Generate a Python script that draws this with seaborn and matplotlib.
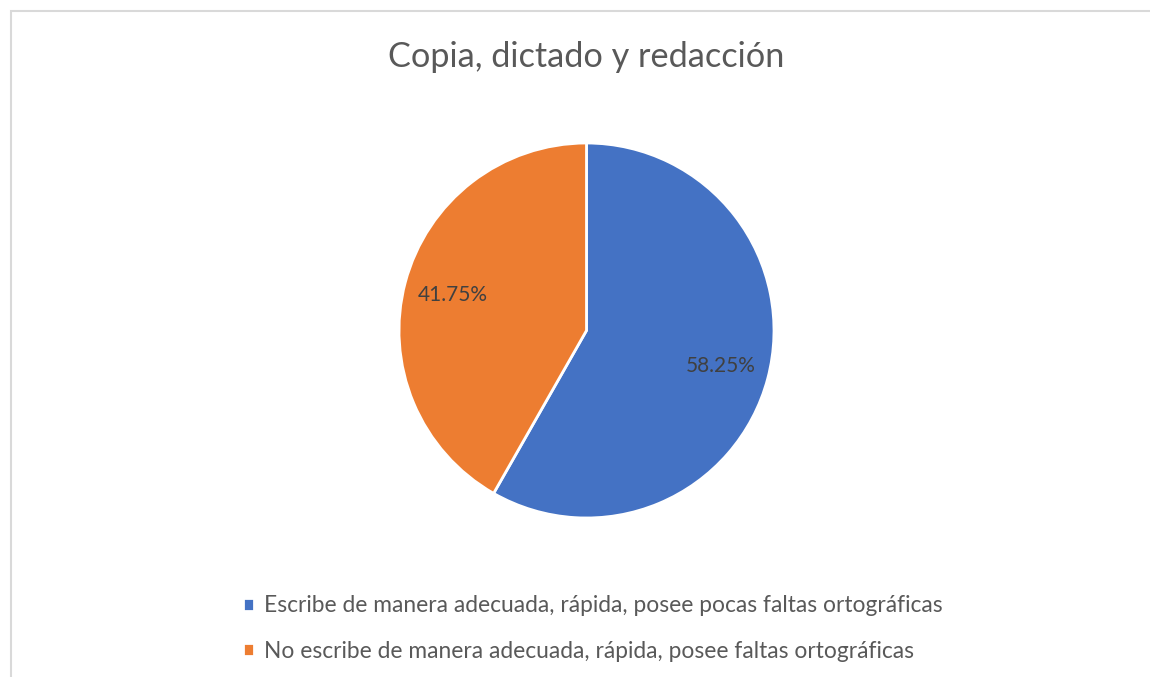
import matplotlib
matplotlib.use("Agg")
import matplotlib.pyplot as plt
from matplotlib.patches import Rectangle
import seaborn as sns

TITLE = "Copia, dictado y redacción"
CATEGORIES = [
    "Escribe de manera adecuada, rápida, posee pocas faltas ortográficas",
    "No escribe de manera adecuada, rápida, posee faltas ortográficas",
]
SHARES = [58.25, 41.75]
COLORS = ["#4472C4", "#ED7D31"]

sns.set_theme(style="white")
plt.rcParams["font.family"] = ["Lato", "DejaVu Sans"]

W, H = 1150, 677
fig = plt.figure(figsize=(W / 100, H / 100), dpi=100)

# light grey chart-area border (open on the right and bottom)
fig.patches.append(Rectangle((10.5 / W, -0.05), 1.2, 1 - 11 / H + 0.05,
                             transform=fig.transFigure, fill=False,
                             edgecolor="#d9d9d9", linewidth=1.5))

cx, cy, r = 586.5, 677 - 330.5, 187.5
ax = fig.add_axes([(cx - r) / W, (cy - r) / H, 2 * r / W, 2 * r / H])
wedges, texts, autotexts = ax.pie(
    SHARES,
    colors=COLORS,
    startangle=90,
    counterclock=False,
    autopct="%.2f%%",
    pctdistance=0.74,
    wedgeprops={"edgecolor": "white", "linewidth": 2},
    textprops={"fontsize": 15, "color": "#404040"},
)
ax.set_xlim(-1, 1)
ax.set_ylim(-1, 1)

fig.text(cx / W, 1 - 57 / H, TITLE, ha="center", va="center",
         fontsize=24.7, color="#595959")

fig.legend(wedges, CATEGORIES, loc="upper left",
           bbox_to_anchor=(222 / W, 1 - 575 / H),
           frameon=False, fontsize=16.4, labelcolor="#595959",
           handlelength=0.5, handleheight=0.5, handletextpad=0.45,
           labelspacing=1.07)

fig.savefig("out.png", dpi=100)
